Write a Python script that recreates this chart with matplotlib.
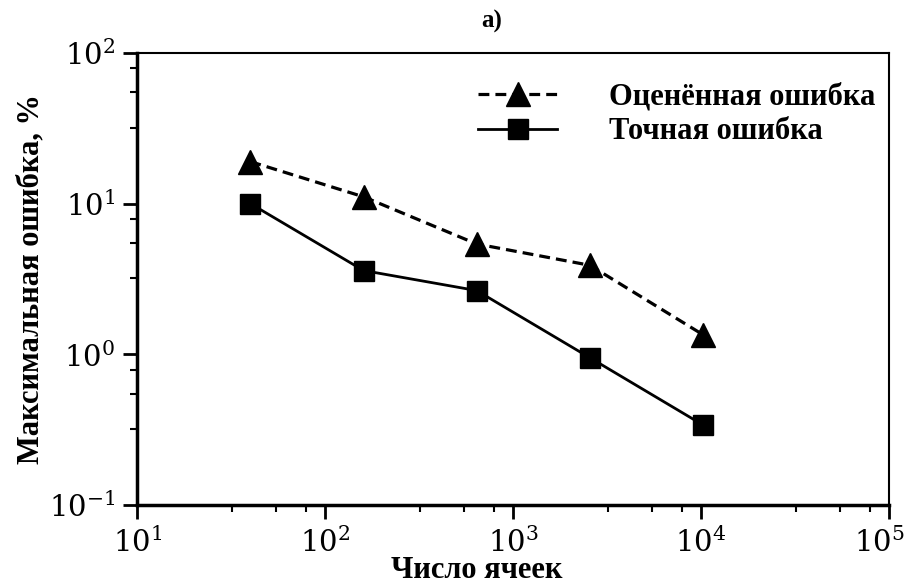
import matplotlib
matplotlib.use('Agg')
import matplotlib.pyplot as plt
import matplotlib.transforms as mtransforms
from matplotlib.ticker import LogLocator, NullFormatter

cells = [40, 160, 640, 2560, 10240]
est_error = [19.0, 11.1, 5.4, 3.9, 1.35]
exact_error = [10.0, 3.6, 2.65, 0.95, 0.34]

plt.rcParams['font.family'] = 'DejaVu Serif'
plt.rcParams['mathtext.fontset'] = 'dejavuserif'
serif_bold = {'family': 'Liberation Serif', 'weight': 'bold'}

fig = plt.figure(figsize=(9.09, 5.88), dpi=100)
ax = fig.add_axes([0.151, 0.141, 0.827, 0.769])

ax.plot(cells, est_error, 'k--^', lw=2.3, ms=17, dashes=(3.4, 1.9),
        label='Оценённая ошибка')
ax.plot(cells, exact_error, 'k-s', lw=2.0, ms=15, label='Точная ошибка')

ax.set_xscale('log')
ax.set_yscale('log')
ax.set_xlim(10, 1e5)
ax.set_ylim(0.1, 100)

for axis in (ax.xaxis, ax.yaxis):
    axis.set_minor_locator(LogLocator(base=10, subs=(3.2, 5.5, 7.9)))
    axis.set_minor_formatter(NullFormatter())

ax.tick_params(which='major', direction='out', length=10, width=2,
               labelsize=21, pad=6)
ax.tick_params(which='minor', direction='out', length=5, width=1.5)
for side in ['top', 'right']:
    ax.spines[side].set_linewidth(1.5)
for side in ['left', 'bottom']:
    ax.spines[side].set_linewidth(2.5)

# pull the 10^5 label slightly inward so it stays on the canvas
fig.canvas.draw()
shift = mtransforms.ScaledTranslation(-10 / 100, 0, fig.dpi_scale_trans)
for tick in ax.xaxis.get_major_ticks():
    if abs(tick.get_loc() - 1e5) < 1:
        tick.label1.set_transform(tick.label1.get_transform() + shift)

ax.set_xlabel('Число ячеек', fontdict=serif_bold, fontsize=22)
ax.xaxis.set_label_coords(0.452, -0.112)
ax.set_ylabel('Максимальная ошибка, %', fontdict=serif_bold, fontsize=22,
              labelpad=2)
ax.set_title('а)', fontdict=serif_bold, fontsize=18, pad=18, x=0.472)

leg = ax.legend(loc='upper left', frameon=False, handlelength=2.6,
                handletextpad=1.7, labelspacing=0.2, borderpad=0,
                borderaxespad=0,
                prop={'family': 'Liberation Serif', 'weight': 'bold', 'size': 22},
                bbox_to_anchor=(0.453, 0.935))

fig.savefig('out.png', dpi=100)
